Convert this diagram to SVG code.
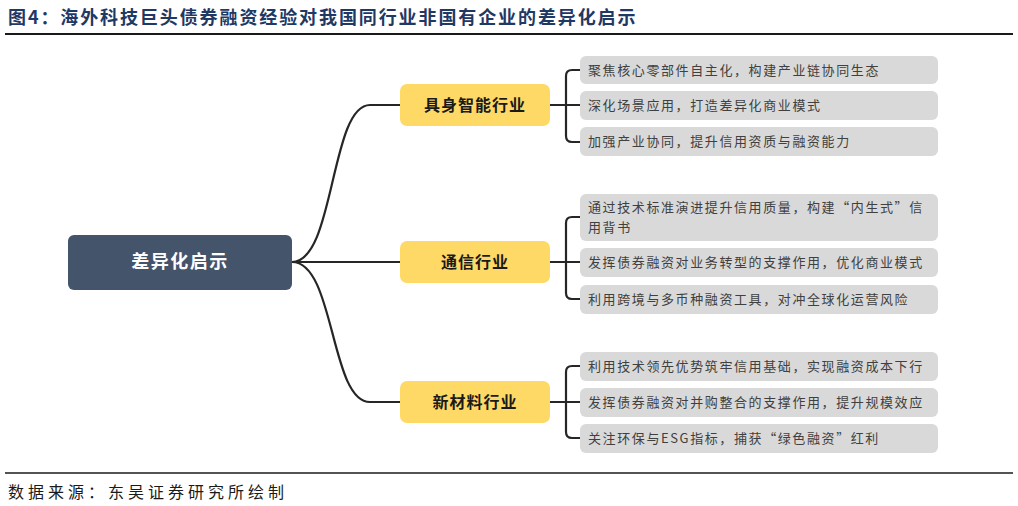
<svg xmlns="http://www.w3.org/2000/svg" width="1018" height="506" viewBox="0 0 1018 506">
<style>
text{font-family:"Noto Sans CJK SC",sans-serif}
.t{fill:#1f3864;font-size:18px;font-weight:bold;letter-spacing:1.9px}
.leaf rect{fill:#d9d9d9}
.leaf text{fill:#404040;font-size:13px;letter-spacing:1.6px}
.br rect{fill:#ffd966}
.br text{fill:#1a1a1a;font-size:16px;font-weight:bold;text-anchor:middle;letter-spacing:1px}
.c{fill:none;stroke:#262626;stroke-width:2.2}
</style>
<rect width="1018" height="506" fill="#fff"/>
<text class="t" x="8" y="24">图4：海外科技巨头债券融资经验对我国同行业非国有企业的差异化启示</text>
<line x1="5" y1="34" x2="1013" y2="34" stroke="#1a1a1a" stroke-width="2"/>
<line x1="5" y1="473" x2="1013" y2="473" stroke="#1a1a1a" stroke-width="1.5"/>
<text x="8" y="498" font-size="16" fill="#1a1a1a" letter-spacing="4">数据来源：东吴证券研究所绘制</text>
<g id="connectors" class="c">
<path d="M292 262 C335 262 330 105 370 105 L400 105"/>
<path d="M292 262 L400 262"/>
<path d="M292 262 C335 262 330 402 370 402 L400 402"/>
<path d="M550 105 L580 105 M580 70 L572 70 Q566 70 566 76 L566 136 Q566 142 572 142 L580 142"/>
<path d="M550 262 L580 262 M580 217 L572 217 Q566 217 566 223 L566 293 Q566 299 572 299 L580 299"/>
<path d="M550 402 L580 402 M580 366 L572 366 Q566 366 566 372 L566 432 Q566 438 572 438 L580 438"/>
</g>
<g id="root"><rect x="68" y="235" width="224" height="55" rx="6" fill="#44546a"/><text x="180" y="268" font-size="18" font-weight="bold" fill="#fff" text-anchor="middle" letter-spacing="1.5">差异化启示</text></g>
<g id="b1" class="br"><rect x="400" y="84" width="150" height="42" rx="7"/><text x="475" y="111">具身智能行业</text></g>
<g id="b2" class="br"><rect x="400" y="241" width="150" height="42" rx="7"/><text x="475" y="268">通信行业</text></g>
<g id="b3" class="br"><rect x="400" y="381" width="150" height="42" rx="7"/><text x="475" y="408">新材料行业</text></g>
<g id="l1" class="leaf"><rect x="580" y="56" width="358" height="28" rx="6"/><text x="588" y="75">聚焦核心零部件自主化，构建产业链协同生态</text></g>
<g id="l2" class="leaf"><rect x="580" y="91" width="358" height="29" rx="6"/><text x="588" y="110">深化场景应用，打造差异化商业模式</text></g>
<g id="l3" class="leaf"><rect x="580" y="127" width="358" height="29" rx="6"/><text x="588" y="146">加强产业协同，提升信用资质与融资能力</text></g>
<g id="l4" class="leaf"><rect x="580" y="194" width="358" height="47" rx="6"/><text x="588" y="212">通过技术标准演进提升信用质量，构建“内生式”信</text><text x="588" y="232">用背书</text></g>
<g id="l5" class="leaf"><rect x="580" y="248" width="358" height="29" rx="6"/><text x="588" y="267">发挥债券融资对业务转型的支撑作用，优化商业模式</text></g>
<g id="l6" class="leaf"><rect x="580" y="285" width="358" height="29" rx="6"/><text x="588" y="304">利用跨境与多币种融资工具，对冲全球化运营风险</text></g>
<g id="l7" class="leaf"><rect x="580" y="352" width="358" height="29" rx="6"/><text x="588" y="371">利用技术领先优势筑牢信用基础，实现融资成本下行</text></g>
<g id="l8" class="leaf"><rect x="580" y="388" width="358" height="29" rx="6"/><text x="588" y="407">发挥债券融资对并购整合的支撑作用，提升规模效应</text></g>
<g id="l9" class="leaf"><rect x="580" y="424" width="358" height="29" rx="6"/><text x="588" y="443">关注环保与ESG指标，捕获“绿色融资”红利</text></g>
</svg>
